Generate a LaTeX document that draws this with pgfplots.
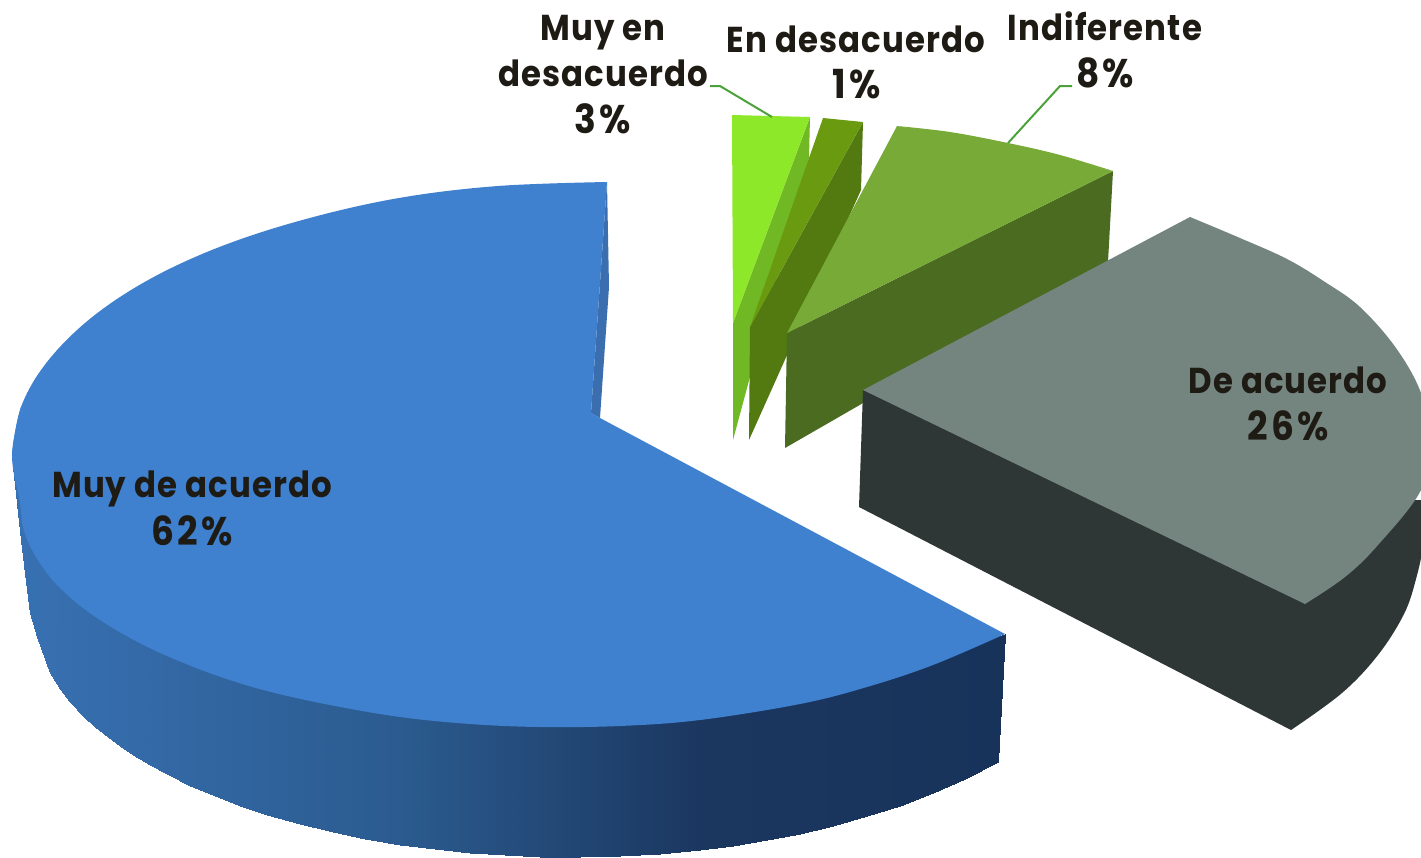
\documentclass[border=0pt]{standalone}
\usepackage{fontspec}
\setmainfont{Poppins}[FakeStretch=0.9,LetterSpace=3]
\usepackage{pgfplots}
\pgfplotsset{compat=1.18}
\definecolor{bluetop}{HTML}{3F80CF}
\definecolor{bluenotch}{HTML}{3A6EAF}
\definecolor{graytop}{HTML}{748580}
\definecolor{grayside}{HTML}{2E3736}
\definecolor{gaatop}{HTML}{8CE828}
\definecolor{gaaside}{HTML}{70B824}
\definecolor{gbbtop}{HTML}{6A9A10}
\definecolor{gbbside}{HTML}{527A10}
\definecolor{gcctop}{HTML}{78AA38}
\definecolor{gccside}{HTML}{4A6B20}
\definecolor{leader}{HTML}{4CA23A}
\definecolor{ink}{HTML}{1E1A14}
\pgfplotsset{colormap={sideblue}{rgb255(13pt)=(56,113,179) rgb255(400pt)=(43,91,143) rgb255(700pt)=(27,55,96) rgb255(1005pt)=(24,51,90)}}
\tikzset{lab/.style={font=\fontsize{36}{46}\selectfont\bfseries,text=ink,anchor=base,inner sep=0pt},
  pct/.style={font=\fontsize{40}{46}\selectfont\bfseries\addfontfeatures{LetterSpace=8},text=ink,anchor=base,inner sep=0pt}}
\begin{document}
\begin{tikzpicture}
\begin{axis}[scale only axis,width=1421pt,height=857pt,xmin=0,xmax=1421,ymin=0,ymax=857,y dir=reverse,axis lines=none]
\path (rel axis cs:0,0) rectangle (rel axis cs:1,1);
% light green slice
\addplot[fill=gaaside,draw=none] coordinates {(810,117)(809,158)(733,440)(733,323)} --cycle;
\addplot[fill=gaatop,draw=none] coordinates {(732,115)(810,117)(733,323)} --cycle;
% dark green slice
\addplot[fill=gbbside,draw=none] coordinates {(863,122)(861,190)(749,440)(750,327)} --cycle;
\addplot[fill=gbbtop,draw=none] coordinates {(823,118)(863,122)(750,327)} --cycle;
% mid green slice
\addplot[fill=gccside,draw=none] coordinates {(1113,171)(1108,262)(785,448)(787,333)} --cycle;
\addplot[fill=gcctop,draw=none,smooth,tension=0.6] coordinates {(897,126)(950,132)(1008,143)(1060,155)(1113,171)} --cycle;
\addplot[fill=gcctop,draw=none] coordinates {(897,126)(1000,145)(1113,171)(787,333)} --cycle;
% gray slice
\addplot[fill=grayside,draw=none,smooth,tension=0.6] coordinates {(1291,730)(1342,693)(1378,655)(1404,614)(1416,579)(1423,545)(1426,500)} --cycle;
\addplot[fill=grayside,draw=none] coordinates {(863,390)(859,507)(1291,730)(1370,640)(1426,500)(1305,500)} --cycle;
\addplot[fill=graytop,draw=none,smooth,tension=0.6] coordinates {(1190,217)(1240,238)(1287,259)(1325,282)(1360,307)(1396,348)(1421,393)(1430,440)(1421,490)(1378,545)(1345,577)(1305,604)} --cycle;
\addplot[fill=graytop,draw=none] coordinates {(1190,217)(1360,380)(1305,604)(863,390)} --cycle;
% blue slice side
\addplot[surf,shader=interp,colormap name=sideblue,mesh/rows=2,point meta=x,point meta min=13,point meta max=1005] coordinates {
(13,467)(20,500)(23,523)(32,546)(40,558)(50,573)(60,583)(70,593)(83,603)(95,612)(108,621)(120,628)(133,636)(150,644)(167,652)(190,662)(215,671)(240,679)(267,687)(300,695)(333,702)(365,707)(400,713)(435,717)(470,720)(505,722)(540,723)(580,723)(620,722)(660,719)(700,716)(733,711)(767,706)(800,700)(833,692)(867,683)(900,673)(933,661)(965,648)(1005,634)
(13,467)(21,540)(27,590)(30,613)(37,637)(50,673)(60,689)(70,702)(83,716)(95,727)(108,737)(120,746)(133,755)(150,765)(167,774)(190,786)(215,796)(240,806)(267,815)(300,824)(333,832)(365,839)(400,845)(435,849)(470,853)(505,855)(540,857)(580,857)(620,856)(660,854)(700,850)(733,846)(767,840)(800,834)(833,826)(867,816)(900,806)(933,793)(965,779)(998,762)};
\addplot[fill=bluenotch,draw=none] coordinates {(607,182)(609,287)(600,418)(591,413)} --cycle;
\addplot[fill=bluetop,draw=none,smooth,tension=0.6] coordinates {(607,182)(498,186)(399,198)(306,219)(222,246)(150,279)(91,318)(47,362)(21,407)(12,455)} --cycle;
\addplot[fill=bluetop,draw=none,smooth,tension=0.6] coordinates {(21,407)(12,455)(20,503)(23,527)(32,550)(50,577)(73,600)(100,620)(132,639)(167,656)(215,675)(267,691)(330,705)(400,717)(470,724)(540,727)(620,726)(700,720)(800,704)(867,687)(933,665)(1005,634)} --cycle;
\addplot[fill=bluetop,draw=none] coordinates {(607,182)(250,270)(12,455)(500,690)(1005,634)(600,418)(591,413)} --cycle;
% leaders
\addplot[leader,line width=2pt] coordinates {(710,86)(720,86)(772,117)};
\addplot[leader,line width=2pt] coordinates {(1072,86)(1060,86)(1008,143)};
% labels
\node[lab] at (axis cs:603,40) {Muy en};
\node[lab] at (axis cs:603,86) {desacuerdo};
\node[pct] at (axis cs:603,133) {3\%};
\node[lab] at (axis cs:856,52) {En desacuerdo};
\node[pct] at (axis cs:857,98) {1\%};
\node[lab] at (axis cs:1105,40) {Indiferente};
\node[pct] at (axis cs:1105,87) {8\%};
\node[lab] at (axis cs:1288,393) {De acuerdo};
\node[pct] at (axis cs:1288,440) {26\%};
\node[lab] at (axis cs:192,497) {Muy de acuerdo};
\node[pct] at (axis cs:192,545) {62\%};
\end{axis}
\end{tikzpicture}
\end{document}
